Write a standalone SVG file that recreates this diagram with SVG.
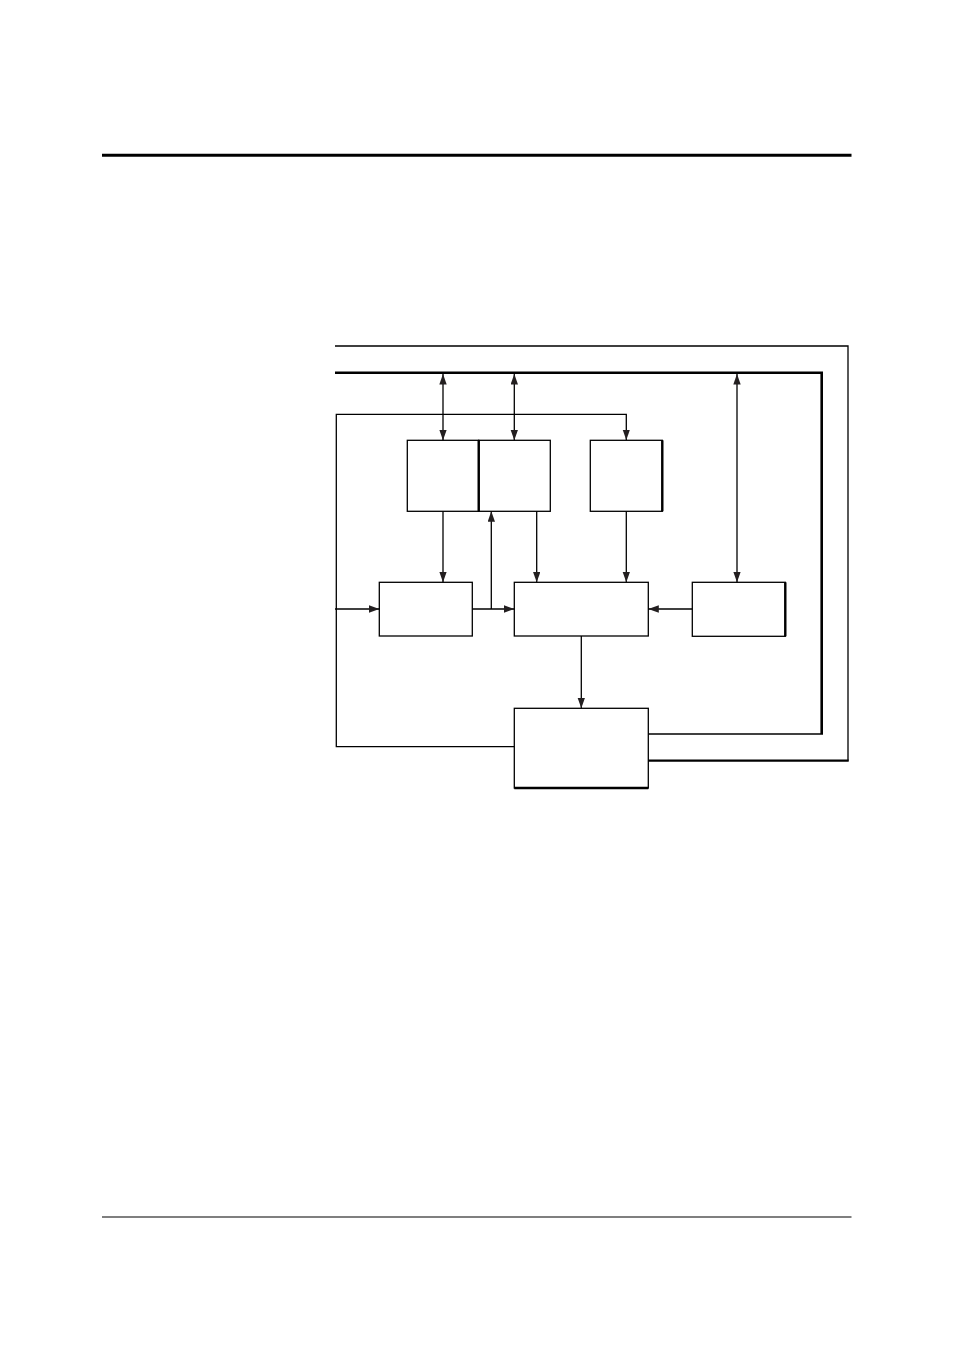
<svg xmlns="http://www.w3.org/2000/svg" width="954" height="1351" viewBox="0 0 954 1351">
<style>
.box{fill:none;stroke:#000;stroke-width:1.3}
.thk{fill:none;stroke:#000;stroke-width:2.4}
.ln{fill:none;stroke:#000;stroke-width:1.3}
.bus{fill:none;stroke:#000;stroke-width:2.6}
</style>
<defs>
<marker id="ah" markerUnits="userSpaceOnUse" markerWidth="11" markerHeight="8" refX="10.5" refY="3.7" orient="auto-start-reverse">
<path d="M0,0 L10.5,3.7 L0,7.4 z" fill="#231f20"/>
</marker>
</defs>
<rect width="954" height="1351" fill="#fff"/>
<g id="page-rules">
<line x1="102" y1="155.3" x2="851.5" y2="155.3" stroke="#000" stroke-width="3"/>
<line x1="102" y1="1217" x2="851.5" y2="1217" stroke="#000" stroke-width="1.2"/>
</g>
<g id="connectors">
<!-- outer thin bus -->
<polyline class="ln" points="335,346 848,346 848,760.7"/>
<line x1="648.3" y1="760.7" x2="848.7" y2="760.7" stroke="#000" stroke-width="2.2"/>
<!-- inner thick bus -->
<polyline class="bus" points="335,372.7 821.7,372.7 821.7,734"/>
<line x1="648.3" y1="734" x2="823" y2="734" stroke="#000" stroke-width="1.3"/>
<!-- left feedback loop -->
<polyline class="ln" points="514.3,746.7 336.3,746.7 336.3,414.3 626.3,414.3 626.3,440" marker-end="url(#ah)"/>
<!-- bus to boxes -->
<line class="ln" x1="443" y1="374" x2="443" y2="440.3" marker-start="url(#ah)" marker-end="url(#ah)"/>
<line class="ln" x1="514.3" y1="374" x2="514.3" y2="440.3" marker-start="url(#ah)" marker-end="url(#ah)"/>
<line class="ln" x1="737" y1="374" x2="737" y2="582.3" marker-start="url(#ah)" marker-end="url(#ah)"/>
<!-- box bottoms to lower row -->
<line class="ln" x1="443" y1="511.3" x2="443" y2="582.3" marker-end="url(#ah)"/>
<line class="ln" x1="536.7" y1="511.3" x2="536.7" y2="582.3" marker-end="url(#ah)"/>
<line class="ln" x1="626.3" y1="511.3" x2="626.3" y2="582.3" marker-end="url(#ah)"/>
<!-- junction up -->
<line class="ln" x1="491.3" y1="609" x2="491.3" y2="511.3" marker-end="url(#ah)"/>
<!-- horizontal inputs -->
<line class="ln" x1="335" y1="609" x2="379.3" y2="609" marker-end="url(#ah)"/>
<line class="ln" x1="472.3" y1="609" x2="514.3" y2="609" marker-end="url(#ah)"/>
<line class="ln" x1="692.3" y1="609" x2="648.3" y2="609" marker-end="url(#ah)"/>
<!-- center down -->
<line class="ln" x1="581.3" y1="636" x2="581.3" y2="708.3" marker-end="url(#ah)"/>
</g>
<g id="box-a"><rect class="box" x="407.3" y="440.3" width="71.4" height="71"/></g>
<g id="box-b"><rect class="box" x="478.7" y="440.3" width="71.6" height="71"/><line class="thk" x1="478.7" y1="440.3" x2="478.7" y2="511.3" stroke-width="2"/></g>
<g id="box-c"><rect class="box" x="590.3" y="440.3" width="72" height="71"/><line class="thk" x1="662.3" y1="440.3" x2="662.3" y2="511.3" stroke-width="2"/></g>
<g id="box-d"><rect class="box" x="379.3" y="582.3" width="93" height="53.7"/></g>
<g id="box-e"><rect class="box" x="514.3" y="582.3" width="134" height="53.7"/></g>
<g id="box-f"><rect class="box" x="692.3" y="582.3" width="93" height="54"/><line class="thk" x1="785.3" y1="582.3" x2="785.3" y2="636.3" stroke-width="2"/></g>
<g id="box-g"><rect class="box" x="514.3" y="708.3" width="134" height="79.7"/><line class="thk" x1="514.3" y1="788" x2="648.3" y2="788" stroke-width="2"/></g>
</svg>
